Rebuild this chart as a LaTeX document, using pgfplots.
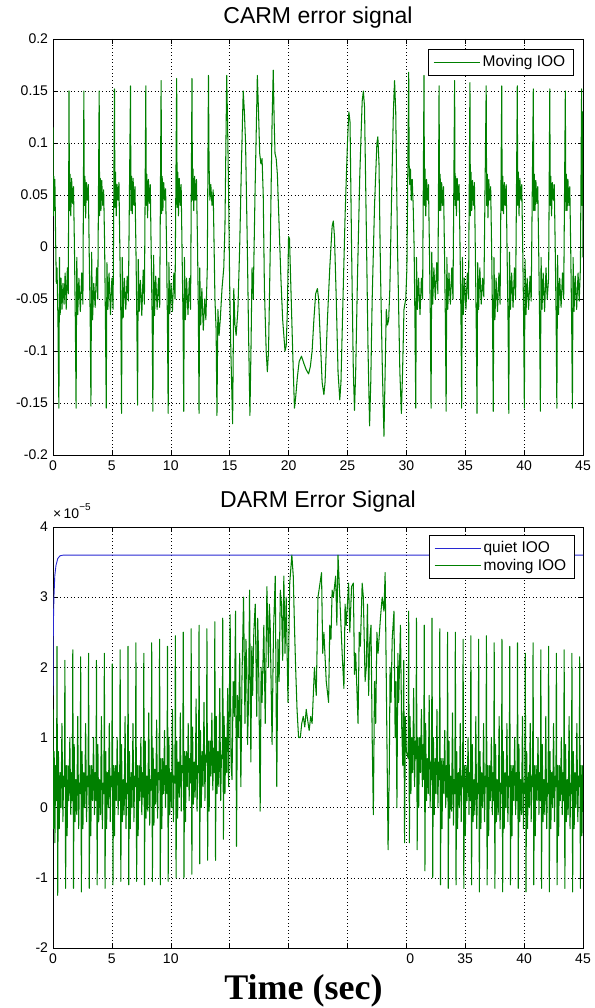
\documentclass[border=0pt]{standalone}
\usepackage{fontspec}
\setmainfont{Liberation Sans}
\newfontfamily\timesfont{Liberation Serif}
\usepackage{pgfplots}
\pgfplotsset{compat=1.18}
\definecolor{mgreen}{RGB}{0,128,0}
\definecolor{mblue}{RGB}{40,40,210}
\pgfplotsset{
  mstyle/.style={
    scale only axis, width=530pt,
    xmin=0, xmax=45, enlargelimits=false,
    xtick={0,5,...,45},
    grid=major,
    grid style={black, dash pattern=on 0.8pt off 2.7pt, line width=0.5pt},
    tick align=inside, major tick length=5pt,
    tick style={black, line width=0.5pt},
    axis line style={black, line width=0.7pt},
    xtick pos=both, ytick pos=both,
    ticklabel style={font=\fontsize{14}{14}\selectfont},
    xticklabel style={yshift=-2pt},
    yticklabel style={xshift=-1.5pt},
    /pgf/number format/assume math mode=true,
    title style={at={(0.5,1)}, anchor=base, font=\fontsize{23}{23}\selectfont},
    legend style={at={(1,1)}, anchor=north east, fill=white,
      font=\fontsize{15.5}{15.5}\selectfont, inner xsep=5pt, inner ysep=4pt,
      nodes={inner sep=2.5pt}, cells={anchor=west}},
    legend image code/.code={\draw[mark repeat=2,mark phase=2] plot coordinates {(0pt,0pt) (23pt,0pt) (46pt,0pt)};},
  },
  gline/.style={color=mgreen, line width=1.05pt, line join=round},
  bline/.style={color=mblue, line width=0.9pt, line join=round},
}
\begin{document}
\begin{tikzpicture}
\path[use as bounding box] (0pt,0pt) rectangle (594pt,-1008pt);
% ---------------- top axis ----------------
\begin{axis}[mstyle, name=top, at={(53pt,-39pt)}, anchor=north west, height=416pt,
  ymin=-0.2, ymax=0.2,
  ytick={-0.2,-0.15,-0.1,-0.05,0,0.05,0.1,0.15,0.2},
  yticklabels={-0.2,-0.15,-0.1,-0.05,0,0.05,0.1,0.15,0.2},
  xticklabels={0,5,10,15,20,25,30,35,40,45},
  title={CARM error signal}, title style={yshift=9pt},
  legend style={xshift=-10pt, yshift=-10pt}]
\addplot[gline] coordinates {
(0,0.115) (0.03,0.03) (0.07,0.068) (0.11,0.035) (0.16,0.065) (0.22,0.01) (0.28,-0.035) (0.34,-0.02) (0.42,-0.07) (0.5,-0.155) (0.55,-0.01) (0.61,-0.065) (0.68,-0.03) (0.76,-0.06) (0.85,-0.035) (0.94,-0.055) (1.03,-0.025) (1.12,-0.06) (1.22,-0.02) (1.30,-0.045)
(1.36,0.15) (1.40,0.035) (1.45,0.07) (1.51,0.03) (1.58,0.066) (1.66,0.042) (1.74,0.058) (1.82,0) (1.90,-0.075) (1.96,-0.155) (2.02,-0.01) (2.10,-0.065) (2.20,-0.03) (2.32,-0.062) (2.44,-0.025) (2.54,-0.055)
(2.62,0.15) (2.66,0.04) (2.71,0.068) (2.77,0.028) (2.84,0.062) (2.92,0.045) (3.00,0.06) (3.08,-0.01) (3.16,-0.07) (3.22,-0.153) (3.28,-0.005) (3.36,-0.07) (3.46,-0.035) (3.58,-0.058) (3.70,-0.02) (3.80,-0.05)
(3.92,0.15) (3.96,0.03) (4.01,0.066) (4.07,0.035) (4.14,0.064) (4.22,0.04) (4.30,0.055) (4.38,0.005) (4.46,-0.08) (4.52,-0.155) (4.58,-0.015) (4.66,-0.06) (4.76,-0.025) (4.88,-0.065) (5.00,-0.03) (5.10,-0.06)
(5.22,0.152) (5.26,0.038) (5.31,0.072) (5.37,0.03) (5.44,0.06) (5.52,0.045) (5.60,0.062) (5.68,-0.005) (5.76,-0.065) (5.82,-0.16) (5.88,-0.01) (5.96,-0.068) (6.06,-0.03) (6.18,-0.06) (6.30,-0.028) (6.40,-0.052)
(6.58,0.155) (6.62,0.035) (6.67,0.068) (6.73,0.032) (6.80,0.066) (6.88,0.04) (6.96,0.058) (7.04,0) (7.12,-0.072) (7.18,-0.152) (7.24,-0.012) (7.32,-0.062) (7.42,-0.032) (7.54,-0.066) (7.66,-0.022) (7.76,-0.055)
(7.88,0.155) (7.92,0.04) (7.97,0.07) (8.03,0.028) (8.10,0.065) (8.18,0.042) (8.26,0.06) (8.34,-0.008) (8.42,-0.07) (8.48,-0.158) (8.54,-0.008) (8.62,-0.066) (8.72,-0.028) (8.84,-0.06) (8.96,-0.03) (9.06,-0.058)
(9.18,0.16) (9.22,0.032) (9.27,0.068) (9.33,0.035) (9.40,0.062) (9.48,0.045) (9.56,0.056) (9.64,0.002) (9.72,-0.078) (9.78,-0.16) (9.84,-0.015) (9.92,-0.064) (10.02,-0.035) (10.14,-0.062) (10.26,-0.025) (10.36,-0.05)
(10.50,0.162) (10.54,0.038) (10.59,0.072) (10.65,0.03) (10.72,0.066) (10.80,0.04) (10.88,0.06) (10.96,-0.005) (11.04,-0.07) (11.10,-0.158) (11.16,-0.01) (11.24,-0.07) (11.34,-0.03) (11.46,-0.065) (11.58,-0.03) (11.68,-0.06)
(11.80,0.162) (11.84,0.045) (11.89,0.075) (11.95,0.035) (12.02,0.068) (12.10,0.045) (12.18,0.065) (12.26,0.01) (12.34,-0.06) (12.40,-0.16) (12.46,-0.02) (12.54,-0.075) (12.64,-0.04) (12.76,-0.08) (12.88,-0.05) (12.98,-0.07) (13.1,-0.02)
(13.2,0.165) (13.25,0.08) (13.32,0.045) (13.4,0.06) (13.5,0.04) (13.6,0.055) (13.75,-0.05) (13.85,-0.08) (13.92,-0.162) (14.0,-0.06) (14.1,-0.085) (14.2,-0.07) (14.35,-0.04) (14.5,-0.02) (14.6,0.02)
(14.75,0.165) (14.82,0.12) (14.9,0.06) (15.0,-0.035) (15.1,-0.1) (15.25,-0.17) (15.35,-0.04) (15.45,-0.075) (15.55,-0.085) (15.7,-0.06) (15.85,0.0) (16.0,0.08)
(16.15,0.15) (16.25,0.13) (16.35,0.1) (16.5,0.0) (16.6,-0.08) (16.72,-0.162) (16.82,-0.09) (16.9,-0.02) (17.0,-0.05) (17.15,0.05)
(17.35,0.165) (17.45,0.13) (17.55,0.09) (17.65,0.08) (17.75,0.085) (17.85,0.05) (17.95,-0.04) (18.1,-0.1) (18.2,-0.12) (18.3,-0.1) (18.45,0.0) (18.6,0.12)
(18.7,0.17) (18.78,0.12) (18.85,0.09) (18.95,0.085) (19.05,0.07) (19.2,0.02) (19.35,-0.03) (19.5,-0.07) (19.7,-0.1) (19.8,-0.095) (19.9,-0.06) (20.0,0.01) (20.08,0.008)
(20.2,-0.04) (20.35,-0.1) (20.5,-0.155) (20.6,-0.145) (20.75,-0.125) (20.9,-0.11) (21.1,-0.105) (21.3,-0.112) (21.5,-0.118) (21.7,-0.122) (21.85,-0.115) (22.0,-0.1) (22.15,-0.07) (22.3,-0.045) (22.45,-0.04) (22.55,-0.05) (22.7,-0.09) (22.85,-0.13) (23.0,-0.142) (23.1,-0.13) (23.3,-0.07) (23.5,-0.02) (23.7,0.02) (23.8,0.025) (23.9,0.01) (24.05,-0.05) (24.2,-0.12) (24.35,-0.147) (24.45,-0.13) (24.6,-0.06) (24.8,0.03) (25.0,0.1) (25.12,0.13) (25.22,0.12) (25.35,0.0) (25.5,-0.12) (25.6,-0.157) (25.7,-0.12) (25.85,-0.03) (26.05,0.07) (26.25,0.14) (26.35,0.15) (26.45,0.135) (26.6,0.02) (26.75,-0.1) (26.88,-0.172) (26.98,-0.13) (27.1,-0.05) (27.3,0.04) (27.5,0.1) (27.58,0.106) (27.68,0.08) (27.8,-0.02) (27.95,-0.11) (28.1,-0.182) (28.2,-0.12) (28.3,-0.06) (28.4,-0.075) (28.5,-0.07) (28.6,-0.04) (28.75,0.05) (28.9,0.13) (29.0,0.16) (29.1,0.13) (29.25,0.0) (29.45,-0.12) (29.58,-0.16) (29.68,-0.12) (29.8,-0.06) (29.95,-0.05) (30.05,-0.02)
(30.2,0.168) (30.24,0.08) (30.29,0.06) (30.35,0.075) (30.42,0.045) (30.50,0.065) (30.58,0.04) (30.66,0.0) (30.74,-0.08) (30.80,-0.155) (30.86,-0.01) (30.94,-0.06) (31.04,-0.03) (31.16,-0.065) (31.28,-0.03) (31.38,-0.05)
(31.50,0.165) (31.54,0.04) (31.59,0.075) (31.65,0.03) (31.72,0.065) (31.80,0.045) (31.88,0.06) (31.96,0.0) (32.04,-0.07) (32.10,-0.155) (32.16,-0.005) (32.24,-0.055) (32.34,-0.02) (32.46,-0.05) (32.58,-0.015) (32.68,-0.045)
(32.78,0.155) (32.82,0.035) (32.87,0.07) (32.93,0.035) (33.00,0.062) (33.08,0.04) (33.16,0.058) (33.24,-0.005) (33.32,-0.075) (33.38,-0.158) (33.44,-0.01) (33.52,-0.06) (33.62,-0.025) (33.74,-0.055) (33.86,-0.02) (33.96,-0.05)
(34.10,0.16) (34.14,0.04) (34.19,0.068) (34.25,0.03) (34.32,0.066) (34.40,0.045) (34.48,0.06) (34.56,0.0) (34.64,-0.07) (34.70,-0.155) (34.76,-0.01) (34.84,-0.065) (34.94,-0.03) (35.06,-0.06) (35.18,-0.025) (35.28,-0.05)
(35.40,0.158) (35.44,0.03) (35.49,0.072) (35.55,0.035) (35.62,0.064) (35.70,0.04) (35.78,0.062) (35.86,-0.005) (35.94,-0.08) (36.00,-0.16) (36.06,-0.015) (36.14,-0.06) (36.24,-0.02) (36.36,-0.055) (36.48,-0.03) (36.58,-0.048)
(36.78,0.155) (36.82,0.04) (36.87,0.07) (36.93,0.028) (37.00,0.065) (37.08,0.045) (37.16,0.058) (37.24,0.0) (37.32,-0.07) (37.38,-0.158) (37.44,-0.01) (37.52,-0.07) (37.62,-0.03) (37.74,-0.062) (37.86,-0.025) (37.96,-0.055)
(38.10,0.155) (38.14,0.035) (38.19,0.068) (38.25,0.032) (38.32,0.062) (38.40,0.04) (38.48,0.06) (38.56,-0.01) (38.64,-0.075) (38.70,-0.16) (38.76,-0.005) (38.84,-0.06) (38.94,-0.025) (39.06,-0.058) (39.18,-0.02) (39.28,-0.05)
(39.42,0.155) (39.46,0.04) (39.51,0.072) (39.57,0.03) (39.64,0.066) (39.72,0.045) (39.80,0.06) (39.88,0.0) (39.96,-0.07) (40.02,-0.155) (40.08,-0.012) (40.16,-0.065) (40.26,-0.03) (40.38,-0.06) (40.50,-0.028) (40.60,-0.052)
(40.78,0.152) (40.82,0.035) (40.87,0.07) (40.93,0.035) (41.00,0.064) (41.08,0.042) (41.16,0.058) (41.24,-0.005) (41.32,-0.075) (41.38,-0.158) (41.44,-0.01) (41.52,-0.06) (41.62,-0.025) (41.74,-0.062) (41.86,-0.02) (41.96,-0.05) (42.08,-0.03)
(42.18,0.152) (42.22,0.04) (42.27,0.068) (42.33,0.03) (42.40,0.062) (42.48,0.045) (42.56,0.06) (42.64,0.0) (42.72,-0.07) (42.78,-0.155) (42.84,-0.008) (42.92,-0.065) (43.02,-0.03) (43.14,-0.058) (43.26,-0.025) (43.36,-0.05)
(43.50,0.15) (43.54,0.035) (43.59,0.07) (43.65,0.035) (43.72,0.065) (43.80,0.04) (43.88,0.058) (43.96,-0.005) (44.04,-0.075) (44.10,-0.155) (44.16,-0.01) (44.24,-0.062) (44.34,-0.028) (44.46,-0.06) (44.58,-0.025) (44.68,-0.052) (44.78,-0.02)
(44.88,0.152) (44.92,0.04) (44.96,0.13) (45,-0.01)
};
\addlegendentry{Moving IOO}
\end{axis}
% ---------------- bottom axis ----------------
\begin{axis}[mstyle, name=bot, at={(53pt,-527pt)}, anchor=north west, height=421pt,
  ymin=-2, ymax=4,
  ytick={-2,-1,0,1,2,3,4},
  yticklabels={-2,-1,0,1,2,3,4},
  xticklabels={0,5,10,,,,\phantom{3}0,35,40,45},
  title={DARM Error Signal}, title style={yshift=14pt},
  legend style={xshift=-9pt, yshift=-8pt, row sep=0pt},
  extra description/.code={\node[anchor=base west, font=\fontsize{14}{14}\selectfont, inner sep=0pt] at ([yshift=9pt]0,1) {×\,10\raisebox{0.55em}{\fontsize{10}{10}\selectfont −5}};}]
\addplot[bline] coordinates {
(0,1.6) (0.03,2.6) (0.08,3.0) (0.15,3.3) (0.25,3.45) (0.4,3.55) (0.6,3.59) (0.9,3.6) (45,3.6)
};
\addlegendentry{quiet IOO}
\addplot[gline] coordinates {
(0,1.4) (0.04,-0.3) (0.10,0.8) (0.16,-0.5) (0.22,0.6) (0.27,0.1)
(0.30,0.2) (0.34,2.3) (0.40,-1.25) (0.46,0.8) (0.53,-0.3) (0.60,0.5) (0.68,0.0) (0.76,1.2) (0.84,-0.2) (0.90,0.45)
(0.97,0.3) (1.01,2.1) (1.07,-1.15) (1.13,0.6) (1.20,-0.4) (1.27,0.6) (1.35,0.1) (1.43,1.0) (1.51,-0.1) (1.57,0.5)
(1.64,0.1) (1.68,2.25) (1.74,-1.15) (1.80,0.9) (1.87,-0.2) (1.94,0.4) (2.02,-0.1) (2.10,1.3) (2.18,-0.3) (2.24,0.35)
(2.31,0.2) (2.35,2.15) (2.41,-1.2) (2.47,0.8) (2.54,-0.3) (2.61,0.5) (2.69,0.0) (2.77,1.2) (2.85,-0.2) (2.91,0.45)
(2.98,0.3) (3.02,2.2) (3.08,-1.15) (3.14,0.6) (3.21,-0.4) (3.28,0.6) (3.36,0.1) (3.44,1.0) (3.52,-0.1) (3.58,0.5)
(3.65,0.1) (3.69,2.1) (3.75,-1.1) (3.81,0.9) (3.88,-0.2) (3.95,0.4) (4.03,-0.1) (4.11,1.3) (4.19,-0.3) (4.25,0.35)
(4.32,0.2) (4.36,2.2) (4.42,-1.15) (4.48,0.8) (4.55,-0.3) (4.62,0.5) (4.70,0.0) (4.78,1.2) (4.86,-0.2) (4.92,0.45)
(4.99,0.3) (5.03,2.05) (5.09,-1.1) (5.15,0.6) (5.22,-0.4) (5.29,0.6) (5.37,0.1) (5.45,1.0) (5.53,-0.1) (5.59,0.5)
(5.66,0.1) (5.70,2.25) (5.76,-1.05) (5.82,0.9) (5.89,-0.2) (5.96,0.4) (6.04,-0.1) (6.12,1.3) (6.20,-0.3) (6.26,0.35)
(6.33,0.2) (6.37,2.3) (6.43,-1.1) (6.49,0.8) (6.56,-0.3) (6.63,0.5) (6.71,0.0) (6.79,1.2) (6.87,-0.2) (6.93,0.45)
(7.00,0.3) (7.04,2.35) (7.10,-1.05) (7.16,0.6) (7.23,-0.4) (7.30,0.6) (7.38,0.1) (7.46,1.0) (7.54,-0.1) (7.60,0.5)
(7.67,0.15) (7.71,2.2) (7.77,-1.1) (7.83,0.95) (7.90,-0.15) (7.97,0.45) (8.05,-0.05) (8.13,1.35) (8.21,-0.25) (8.27,0.4)
(8.34,0.25) (8.38,2.35) (8.44,-1.05) (8.50,0.85) (8.57,-0.25) (8.64,0.55) (8.72,0.05) (8.80,1.25) (8.88,-0.15) (8.94,0.5)
(9.01,0.4) (9.05,2.4) (9.11,-1.1) (9.17,0.7) (9.24,-0.3) (9.31,0.7) (9.39,0.2) (9.47,1.1) (9.55,0.0) (9.61,0.6)
(9.68,0.2) (9.72,2.3) (9.78,-1.05) (9.84,1.0) (9.91,-0.1) (9.98,0.5) (10.06,0.0) (10.14,1.4) (10.22,-0.2) (10.28,0.45)
(10.35,0.35) (10.39,2.45) (10.45,-1.0) (10.51,0.95) (10.58,-0.15) (10.65,0.65) (10.73,0.15) (10.81,1.35) (10.89,-0.05) (10.95,0.6)
(11.02,0.5) (11.06,2.5) (11.12,-1.0) (11.18,0.8) (11.25,-0.2) (11.32,0.8) (11.40,0.3) (11.48,1.2) (11.56,0.1) (11.62,0.7)
(11.69,0.35) (11.73,2.55) (11.79,-0.95) (11.85,1.15) (11.92,0.05) (11.99,0.65) (12.07,0.15) (12.15,1.55) (12.23,-0.05) (12.29,0.6)
(12.36,0.5) (12.40,2.6) (12.46,-0.8) (12.52,1.1) (12.59,0.0) (12.66,0.8) (12.74,0.3) (12.82,1.5) (12.90,0.1) (12.96,0.75)
(13.03,0.65) (13.07,2.55) (13.13,-0.75) (13.19,0.95) (13.26,-0.05) (13.33,0.95) (13.41,0.45) (13.49,1.35) (13.57,0.25) (13.63,0.85)
(13.70,0.5) (13.74,2.65) (13.80,-0.75) (13.86,1.3) (13.93,0.2) (14.00,0.8) (14.08,0.3) (14.16,1.7) (14.24,0.1) (14.30,0.75)
(14.37,0.7) (14.41,2.7) (14.47,-0.45) (14.53,1.3) (14.60,0.2) (14.67,1.0) (14.75,0.5) (14.83,1.7) (14.91,0.3)
(15.04,2.75) (15.12,0.6) (15.2,0.4) (15.3,1.8) (15.4,1.3) (15.5,2.8) (15.58,-0.55) (15.66,1.6) (15.75,1.0) (15.85,2.2) (15.95,0.3) (16.05,1.9) (16.18,3.0) (16.3,1.2) (16.38,2.4) (16.45,2.0) (16.52,0.9) (16.6,1.5) (16.69,3.1) (16.8,0.65) (16.88,2.3) (16.95,1.6) (17.05,2.5) (17.17,2.9) (17.3,1.3) (17.38,2.7) (17.45,2.2) (17.59,-0.05) (17.67,2.0) (17.75,1.5) (17.9,2.6) (18.02,1.2) (18.16,3.15) (18.3,2.0) (18.37,2.9) (18.44,2.6) (18.6,0.9) (18.72,2.5) (18.87,3.3) (19.0,0.3) (19.1,2.4) (19.2,1.8) (19.3,3.1) (19.4,2.9) (19.5,2.1) (19.6,3.3) (19.7,2.2) (19.8,3.0) (19.95,1.5) (20.1,3.2) (20.28,3.6) (20.4,3.3) (20.5,2.6) (20.6,2.0) (20.72,1.4) (20.85,1.0)
(21.0,1.0) (21.12,1.2) (21.25,1.3) (21.38,1.15) (21.5,1.4) (21.62,1.25) (21.75,1.1) (21.88,1.3) (22.0,1.2) (22.2,2.0) (22.35,1.6) (22.5,3.0) (22.8,3.35) (22.9,2.2) (23.0,2.5) (23.2,1.8) (23.4,1.5) (23.5,2.6) (23.6,2.4) (23.7,3.1) (23.8,3.0) (24.0,3.3) (24.1,2.6) (24.2,3.6) (24.4,2.8) (24.55,2.2) (24.7,1.7) (24.8,2.9) (24.9,2.6) (25.1,3.2) (25.2,2.5) (25.35,3.15) (25.5,3.2) (25.6,1.9) (25.7,2.2) (25.9,1.2) (26.0,2.5) (26.1,2.3) (26.25,3.2) (26.35,3.0) (26.5,1.8) (26.6,2.0) (26.7,2.9) (26.8,1.6) (26.9,2.4) (27.0,2.6) (27.1,1.0) (27.2,-0.1) (27.3,1.8) (27.4,1.2) (27.5,2.5) (27.6,2.2) (27.8,2.7) (27.95,3.0) (28.1,2.8) (28.2,3.35) (28.3,1.8) (28.45,-0.6) (28.55,0.5) (28.62,2.0) (28.7,1.5) (28.8,2.4) (28.95,2.8) (29.05,1.0) (29.12,1.8) (29.2,0.0) (29.28,2.2) (29.35,1.5) (29.5,2.6) (29.6,1.2) (29.7,0.6) (29.78,2.1) (29.85,-0.5) (29.92,1.3) (30.0,0.8)
(30.16,0.7) (30.20,2.8) (30.26,-0.5) (30.32,1.3) (30.39,0.2) (30.46,1.0) (30.54,0.5) (30.62,1.7) (30.70,0.3) (30.76,0.95)
(30.82,0.7) (30.86,2.7) (30.92,-0.6) (30.98,1.0) (31.05,0.0) (31.12,1.0) (31.20,0.5) (31.28,1.4) (31.36,0.3) (31.42,0.9)
(31.48,0.4) (31.52,2.6) (31.58,-0.9) (31.64,1.2) (31.71,0.1) (31.78,0.7) (31.86,0.2) (31.94,1.6) (32.02,0.0) (32.08,0.65)
(32.14,0.4) (32.18,2.7) (32.24,-1.0) (32.30,1.0) (32.37,-0.1) (32.44,0.7) (32.52,0.2) (32.60,1.4) (32.68,0.0) (32.74,0.65)
(32.80,0.4) (32.84,2.55) (32.90,-1.1) (32.96,0.7) (33.03,-0.3) (33.10,0.7) (33.18,0.2) (33.26,1.1) (33.34,0.0) (33.40,0.6)
(33.46,0.15) (33.50,2.5) (33.56,-1.15) (33.62,0.95) (33.69,-0.15) (33.76,0.45) (33.84,-0.05) (33.92,1.35) (34.00,-0.25) (34.06,0.4)
(34.12,0.2) (34.16,2.5) (34.22,-1.1) (34.28,0.8) (34.35,-0.3) (34.42,0.5) (34.50,0.0) (34.58,1.2) (34.66,-0.2) (34.72,0.45)
(34.78,0.3) (34.82,2.4) (34.88,-1.15) (34.94,0.6) (35.01,-0.4) (35.08,0.6) (35.16,0.1) (35.24,1.0) (35.32,-0.1) (35.38,0.5)
(35.44,0.1) (35.48,2.45) (35.54,-1.1) (35.60,0.9) (35.67,-0.2) (35.74,0.4) (35.82,-0.1) (35.90,1.3) (35.98,-0.3) (36.04,0.35)
(36.10,0.2) (36.14,2.4) (36.20,-1.2) (36.26,0.8) (36.33,-0.3) (36.40,0.5) (36.48,0.0) (36.56,1.2) (36.64,-0.2) (36.70,0.45)
(36.76,0.3) (36.80,2.45) (36.86,-1.1) (36.92,0.6) (36.99,-0.4) (37.06,0.6) (37.14,0.1) (37.22,1.0) (37.30,-0.1) (37.36,0.5)
(37.42,0.1) (37.46,2.35) (37.52,-1.15) (37.58,0.9) (37.65,-0.2) (37.72,0.4) (37.80,-0.1) (37.88,1.3) (37.96,-0.3) (38.02,0.35)
(38.08,0.2) (38.12,2.4) (38.18,-1.2) (38.24,0.8) (38.31,-0.3) (38.38,0.5) (38.46,0.0) (38.54,1.2) (38.62,-0.2) (38.68,0.45)
(38.74,0.3) (38.78,2.3) (38.84,-1.1) (38.90,0.6) (38.97,-0.4) (39.04,0.6) (39.12,0.1) (39.20,1.0) (39.28,-0.1) (39.34,0.5)
(39.40,0.1) (39.44,2.35) (39.50,-1.15) (39.56,0.9) (39.63,-0.2) (39.70,0.4) (39.78,-0.1) (39.86,1.3) (39.94,-0.3) (40.00,0.35)
(40.06,0.2) (40.10,2.2) (40.16,-1.2) (40.22,0.8) (40.29,-0.3) (40.36,0.5) (40.44,0.0) (40.52,1.2) (40.60,-0.2) (40.66,0.45)
(40.72,0.3) (40.76,2.35) (40.82,-1.1) (40.88,0.6) (40.95,-0.4) (41.02,0.6) (41.10,0.1) (41.18,1.0) (41.26,-0.1) (41.32,0.5)
(41.38,0.1) (41.42,2.25) (41.48,-1.15) (41.54,0.9) (41.61,-0.2) (41.68,0.4) (41.76,-0.1) (41.84,1.3) (41.92,-0.3) (41.98,0.35)
(42.04,0.2) (42.08,2.3) (42.14,-1.2) (42.20,0.8) (42.27,-0.3) (42.34,0.5) (42.42,0.0) (42.50,1.2) (42.58,-0.2) (42.64,0.45)
(42.70,0.3) (42.74,2.2) (42.80,-1.1) (42.86,0.6) (42.93,-0.4) (43.00,0.6) (43.08,0.1) (43.16,1.0) (43.24,-0.1) (43.30,0.5)
(43.36,0.1) (43.40,2.25) (43.46,-1.15) (43.52,0.9) (43.59,-0.2) (43.66,0.4) (43.74,-0.1) (43.82,1.3) (43.90,-0.3) (43.96,0.35)
(44.02,0.2) (44.06,2.2) (44.12,-1.2) (44.18,0.8) (44.25,-0.3) (44.32,0.5) (44.40,0.0) (44.48,1.2) (44.56,-0.2) (44.62,0.45)
(44.68,0.3) (44.72,2.15) (44.78,-1.15) (44.84,0.6) (44.91,-0.4) (44.98,0.6) (45,0.1)
};
\addlegendentry{moving IOO}
\end{axis}
\node[anchor=base, font=\timesfont\bfseries\fontsize{36}{40}\selectfont, inner sep=0pt] at (303.5pt,-999pt) {Time (sec)};
\end{tikzpicture}
\end{document}
